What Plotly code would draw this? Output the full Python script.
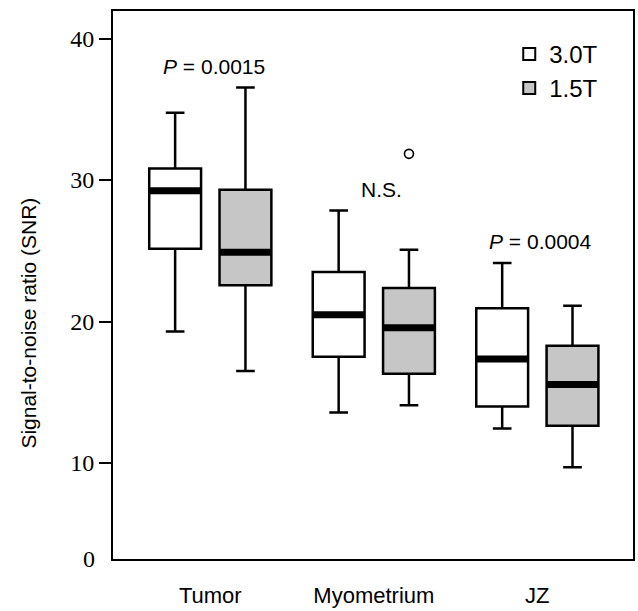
import plotly.graph_objects as go

categories = ["Tumor", "Myometrium", "JZ"]
series = ["3.0T", "1.5T"]

# box statistics per series, per category
q1_30 = [25.14, 17.51, 13.99]
med_30 = [29.25, 20.47, 17.35]
q3_30 = [30.82, 23.50, 20.93]
lo_30 = [19.3, 13.57, 12.43]
hi_30 = [34.75, 27.85, 24.13]

q1_15 = [22.56, 16.31, 12.63]
med_15 = [24.90, 19.56, 15.54]
q3_15 = [29.32, 22.37, 18.28]
lo_15 = [16.5, 14.08, 9.69]
hi_15 = [36.54, 25.07, 21.11]

outlier_cat = ["Myometrium"]
outlier_val = [31.85]

p_labels = ["P = 0.0015", "N.S.", "P = 0.0004"]
p_y = [38.05, 29.34, 25.64]

y_ticks = [10, 20, 30, 40]
Y_BOTTOM = 3.21
Y_TOP = 41.95

OFFSET = 0.215
BOXW = 0.317

cat_pos = {c: i + 1 for i, c in enumerate(categories)}
fills = {"3.0T": "white", "1.5T": "#c6c6c6"}
stats = {
    "3.0T": (q1_30, med_30, q3_30, lo_30, hi_30, -OFFSET),
    "1.5T": (q1_15, med_15, q3_15, lo_15, hi_15, OFFSET),
}

fig = go.Figure()
for s in series:
    q1, med, q3, lo, hi, off = stats[s]
    xs = [cat_pos[c] + off for c in categories]
    fig.add_trace(go.Box(
        name=s, x=xs, q1=q1, median=med, q3=q3,
        lowerfence=lo, upperfence=hi,
        width=BOXW, whiskerwidth=0.36,
        fillcolor=fills[s], line=dict(color="black", width=2.5),
        boxpoints=False, hoverinfo="skip",
    ))
    mx, my = [], []
    for x, m in zip(xs, med):
        mx += [x - BOXW / 2, x + BOXW / 2, None]
        my += [m, m, None]
    fig.add_trace(go.Scatter(x=mx, y=my, mode="lines",
                             line=dict(color="black", width=7),
                             showlegend=False, hoverinfo="skip"))

fig.add_trace(go.Scatter(
    x=[cat_pos[c] + OFFSET for c in outlier_cat], y=outlier_val,
    mode="markers", marker=dict(symbol="circle-open", size=9,
                                color="black", line=dict(width=1.6)),
    showlegend=False, hoverinfo="skip"))

for i, (t, yv) in enumerate(zip(p_labels, p_y)):
    txt = t.replace("P", "<i>P</i>", 1) if t.startswith("P") else t
    fig.add_annotation(x=i + 1 + (0.05 if i == 1 else 0.02), y=yv, text=txt,
                       showarrow=False,
                       font=dict(family="Liberation Sans, Arial", size=21,
                                 color="black"))

fig.add_annotation(x=0, xref="paper", y=Y_BOTTOM, yref="y", text="0",
                   showarrow=False, xanchor="right", xshift=-16,
                   font=dict(family="Liberation Serif, Times New Roman",
                             size=24, color="black"))

fig.add_annotation(x=-0.163, xref="paper", y=0.43, yref="paper",
                   text="Signal-to-noise ratio (SNR)", textangle=-90,
                   showarrow=False, xanchor="center", yanchor="middle",
                   font=dict(family="Liberation Sans, Arial", size=21,
                             color="black"))

fig.update_layout(
    width=638, height=611,
    margin=dict(l=113, r=3, t=11, b=44),
    paper_bgcolor="white", plot_bgcolor="white",
    boxmode="overlay",
    showlegend=True,
    legend=dict(x=0.762, y=0.962, xanchor="left", yanchor="top",
                bgcolor="rgba(0,0,0,0)", itemsizing="constant",
                tracegroupgap=0,
                font=dict(family="Liberation Sans, Arial", size=24,
                          color="black")),
    font=dict(family="Liberation Sans, Arial", color="black"),
)
fig.update_xaxes(
    range=[0.405, 3.585], tickvals=[1, 2, 3], ticktext=categories,
    ticks="", showgrid=False, zeroline=False,
    showline=True, linecolor="black", linewidth=2, mirror=True,
    ticklabelstandoff=16,
    tickfont=dict(family="Liberation Sans, Arial", size=22, color="black"),
)
fig.update_yaxes(
    range=[Y_BOTTOM, Y_TOP], tickvals=y_ticks,
    ticktext=[str(v) for v in y_ticks],
    ticks="outside", ticklen=12, tickwidth=2, tickcolor="black",
    showgrid=False, zeroline=False,
    showline=True, linecolor="black", linewidth=2, mirror=True,
    tickfont=dict(family="Liberation Serif, Times New Roman", size=24,
                  color="black"),
)

fig.write_html("out.html")
